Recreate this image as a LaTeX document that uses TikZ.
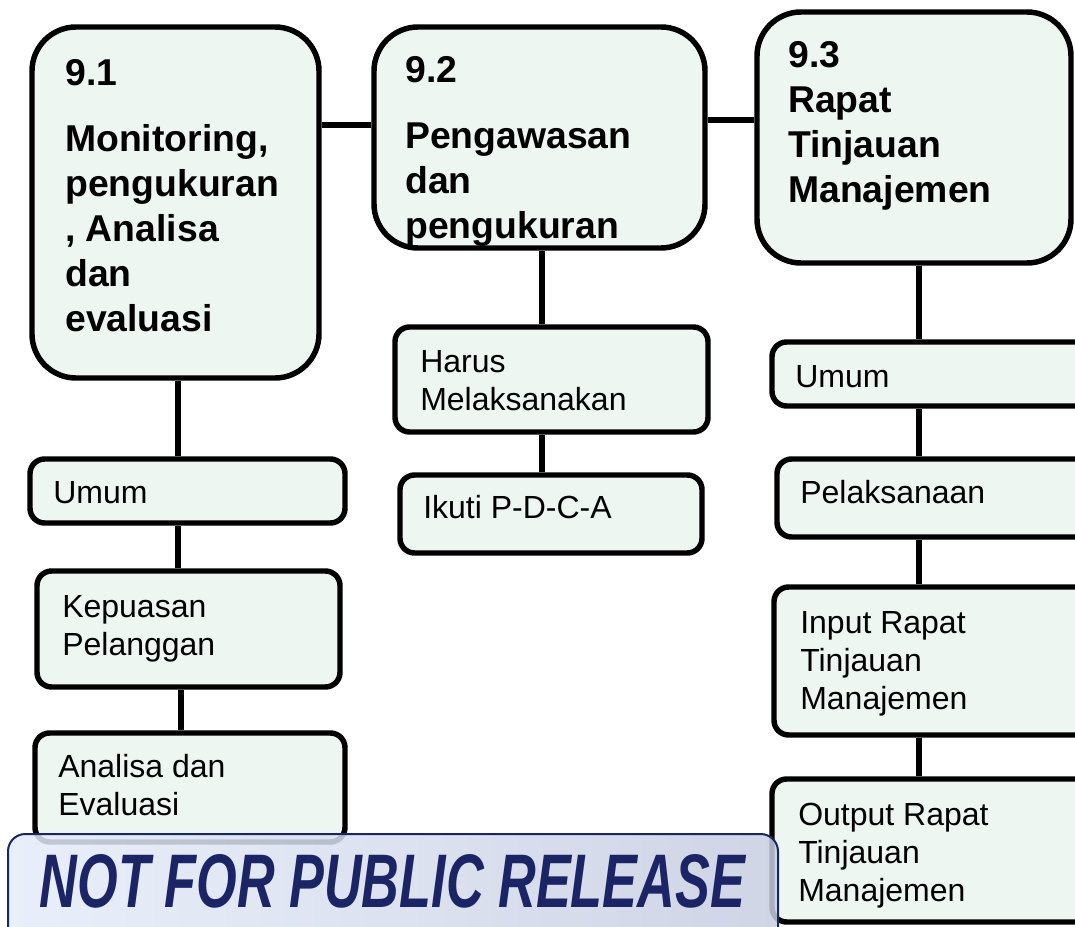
\documentclass[tikz,border=0pt]{standalone}
\usepackage{fontspec}
\setmainfont{Liberation Sans}
\usepackage{graphicx}
\usetikzlibrary{fit}
\definecolor{boxfill}{RGB}{237,246,241}
\definecolor{navy}{RGB}{27,37,102}
\definecolor{bannerL}{RGB}{229,237,249}
\definecolor{bannerR}{RGB}{200,206,226}
% invisible strut fixing the top of the first text line
\newcommand\capstrut{\rule{0pt}{0.8em}}
\begin{document}
\begin{tikzpicture}[x=0.75pt,y=-0.75pt,
  box/.style={draw=black, line width=4.1pt, fill=boxfill, rounded corners=11pt, inner sep=0pt},
  bigbox/.style={box, rounded corners=33pt},
  link/.style={draw=black, line width=4.1pt},
  ttl/.style={anchor=north west, inner sep=0pt, align=left, font=\bfseries\fontsize{28}{33.75}\selectfont},
  txt/.style={anchor=north west, inner sep=0pt, align=left, font=\fontsize{24}{28.5}\selectfont},
  banner/.style={draw=navy, line width=1.5pt, rounded corners=13pt, left color=bannerL, right color=bannerR, fill opacity=0.85, inner sep=0pt}
]
\clip (0,0) rectangle (1075,927);
\fill[white] (0,0) rectangle (1075,927);

% column axes
\coordinate (xl) at (178,0);
\coordinate (xl2) at (181,0);
\coordinate (xm) at (542,0);
\coordinate (xr) at (919,0);
\coordinate (ya) at (0,125);
\coordinate (yb) at (0,120);

% main clause boxes
\node[bigbox, fit={(32,27) (319,378)}] (b91) {};
\node[bigbox, fit={(374,27) (705,248)}] (b92) {};
\node[bigbox, fit={(757,12) (1071,263)}] (b93) {};

% sub-clause boxes
\node[box, fit={(30,459) (345,523)}] (l1) {};
\node[box, fit={(37,571) (340,687)}] (l2) {};
\node[box, fit={(35,733) (345,842)}] (l3) {};
\node[box, fit={(395,327) (708,432)}] (m1) {};
\node[box, fit={(400,475) (702,553)}] (m2) {};
\node[box, fit={(772,342) (1090,406)}] (r1) {};
\node[box, fit={(777,459) (1090,537)}] (r2) {};
\node[box, fit={(774,587) (1090,735)}] (r3) {};
\node[box, fit={(772,779) (1090,922)}] (r4) {};

% connectors
\draw[link] (b91.east |- ya) -- (b92.west |- ya);
\draw[link] (b92.east |- yb) -- (b93.west |- yb);
\draw[link] (b91.south -| xl) -- (l1.north -| xl);
\draw[link] (l1.south -| xl) -- (l2.north -| xl);
\draw[link] (l2.south -| xl2) -- (l3.north -| xl2);
\draw[link] (b92.south -| xm) -- (m1.north -| xm);
\draw[link] (m1.south -| xm) -- (m2.north -| xm);
\draw[link] (b93.south -| xr) -- (r1.north -| xr);
\draw[link] (r1.south -| xr) -- (r2.north -| xr);
\draw[link] (r2.south -| xr) -- (r3.north -| xr);
\draw[link] (r3.south -| xr) -- (r4.north -| xr);

% titles
\node[ttl] (t91) at (65,55.1) {\capstrut 9.1\\[16pt]Monitoring,\\pengukuran\\, Analisa\\dan\\evaluasi};
\node[ttl] (t92) at (405,52.1) {\capstrut 9.2\\[16pt]Pengawasan\\dan\\pengukuran};
\node[ttl] (t93) at (788,37.1) {\capstrut 9.3\\Rapat\\Tinjauan\\Manajemen};

% sub-clause texts
\node[txt] (tl1) at (53,477.4) {\capstrut Umum};
\node[txt] (tl2) at (62,591.4) {\capstrut Kepuasan\\Pelanggan};
\node[txt] (tl3) at (58,751.4) {\capstrut Analisa dan\\Evaluasi};
\node[txt] (tm1) at (420,346.4) {\capstrut Harus\\Melaksanakan};
\node[txt] (tm2) at (423,492.4) {\capstrut Ikuti P-D-C-A};
\node[txt] (tr1) at (795,361.4) {\capstrut Umum};
\node[txt] (tr2) at (800,477.4) {\capstrut Pelaksanaan};
\node[txt] (tr3) at (800,607.4) {\capstrut Input Rapat\\Tinjauan\\Manajemen};
\node[txt] (tr4) at (798,799.4) {\capstrut Output Rapat\\Tinjauan\\Manajemen};

% release banner
\node[banner, fit={(8,834) (778,950)}] (ban) {};
\node[anchor=base, inner sep=0pt, text=navy] (bantext) at (392.5,907)
  {\resizebox{528.75pt}{39.75pt}{\bfseries\itshape NOT FOR PUBLIC RELEASE}};
\end{tikzpicture}
\end{document}
